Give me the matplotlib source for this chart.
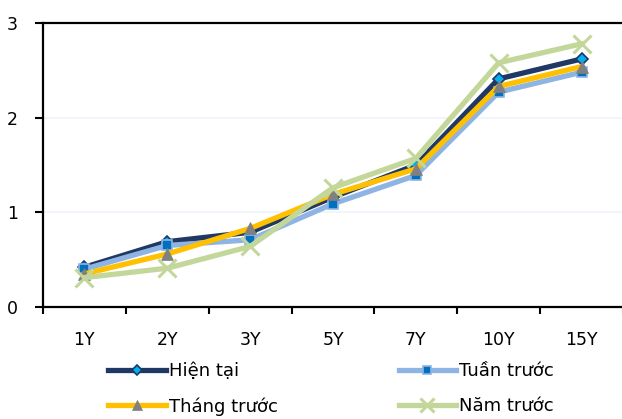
import matplotlib
matplotlib.use("Agg")
import matplotlib.pyplot as plt

plt.rcParams['font.family'] = ['DejaVu Sans']

tenors = ["1Y", "2Y", "3Y", "5Y", "7Y", "10Y", "15Y"]
hien_tai = [0.42, 0.69, 0.79, 1.16, 1.50, 2.41, 2.62]
tuan_truoc = [0.40, 0.65, 0.71, 1.09, 1.39, 2.27, 2.48]
thang_truoc = [0.35, 0.56, 0.83, 1.19, 1.46, 2.33, 2.54]
nam_truoc = [0.31, 0.41, 0.64, 1.26, 1.57, 2.58, 2.78]
y_ticks = [0, 1, 2, 3]

fig = plt.figure(figsize=(6.22, 4.19), dpi=100)
ax = fig.add_axes([43 / 622, 1 - 307 / 419, 580 / 622, 284 / 419])

x = list(range(len(tenors)))
lw = 3.8
l1, = ax.plot(x, hien_tai, color="#1F3864", lw=lw, marker="D", ms=6,
              mfc="#00B0F0", mec="#1F3864", mew=1.2, label="Hiện tại", zorder=3)
l2, = ax.plot(x, tuan_truoc, color="#8DB4E2", lw=lw, marker="s", ms=7,
              mfc="#0070C0", mec="#8DB4E2", mew=1.2, label="Tuần trước", zorder=3)
l3, = ax.plot(x, thang_truoc, color="#FFC000", lw=lw, marker="^", ms=9,
              mfc="#808080", mec="#808080", mew=0.5, label="Tháng trước", zorder=3)
l4, = ax.plot(x, nam_truoc, color="#C4D79B", lw=lw, marker="x", ms=13,
              mfc="#C4D79B", mec="#C4D79B", mew=2.2, label="Năm trước", zorder=3)

ax.set_xlim(-0.5, len(tenors) - 0.5)
ax.set_ylim(0, 3)
ax.set_yticks(y_ticks)
ax.set_yticklabels([str(v) for v in y_ticks])
ax.set_xticks(x)
ax.set_xticklabels(tenors)
ax.set_xticks([i - 0.5 for i in range(len(tenors) + 1)], minor=True)
ax.tick_params(axis="x", which="major", length=0, pad=17, labelsize=12.5)
ax.tick_params(axis="x", which="minor", length=5, width=1.5, direction="out")
ax.tick_params(axis="y", length=6, width=1.5, direction="out", pad=12, labelsize=12.5)

for yv in [1, 2]:
    ax.axhline(yv, color="#EEF4FB", lw=1.2, zorder=1)

for side in ["left", "bottom", "top"]:
    ax.spines[side].set_linewidth(1.6)
    ax.spines[side].set_color("black")
ax.spines["right"].set_visible(False)

# legend fills column-wise, so order entries to read row by row
fig.legend([l1, l3, l2, l4], [l1.get_label(), l3.get_label(), l2.get_label(), l4.get_label()],
           ncol=2, loc="lower left",
           bbox_to_anchor=(92 / 622, -13 / 419), frameon=False,
           fontsize=13, handlelength=3.2, handletextpad=0.15,
           columnspacing=6.7, labelspacing=0.95, markerscale=0.8)

fig.savefig("out.png", dpi=100)
